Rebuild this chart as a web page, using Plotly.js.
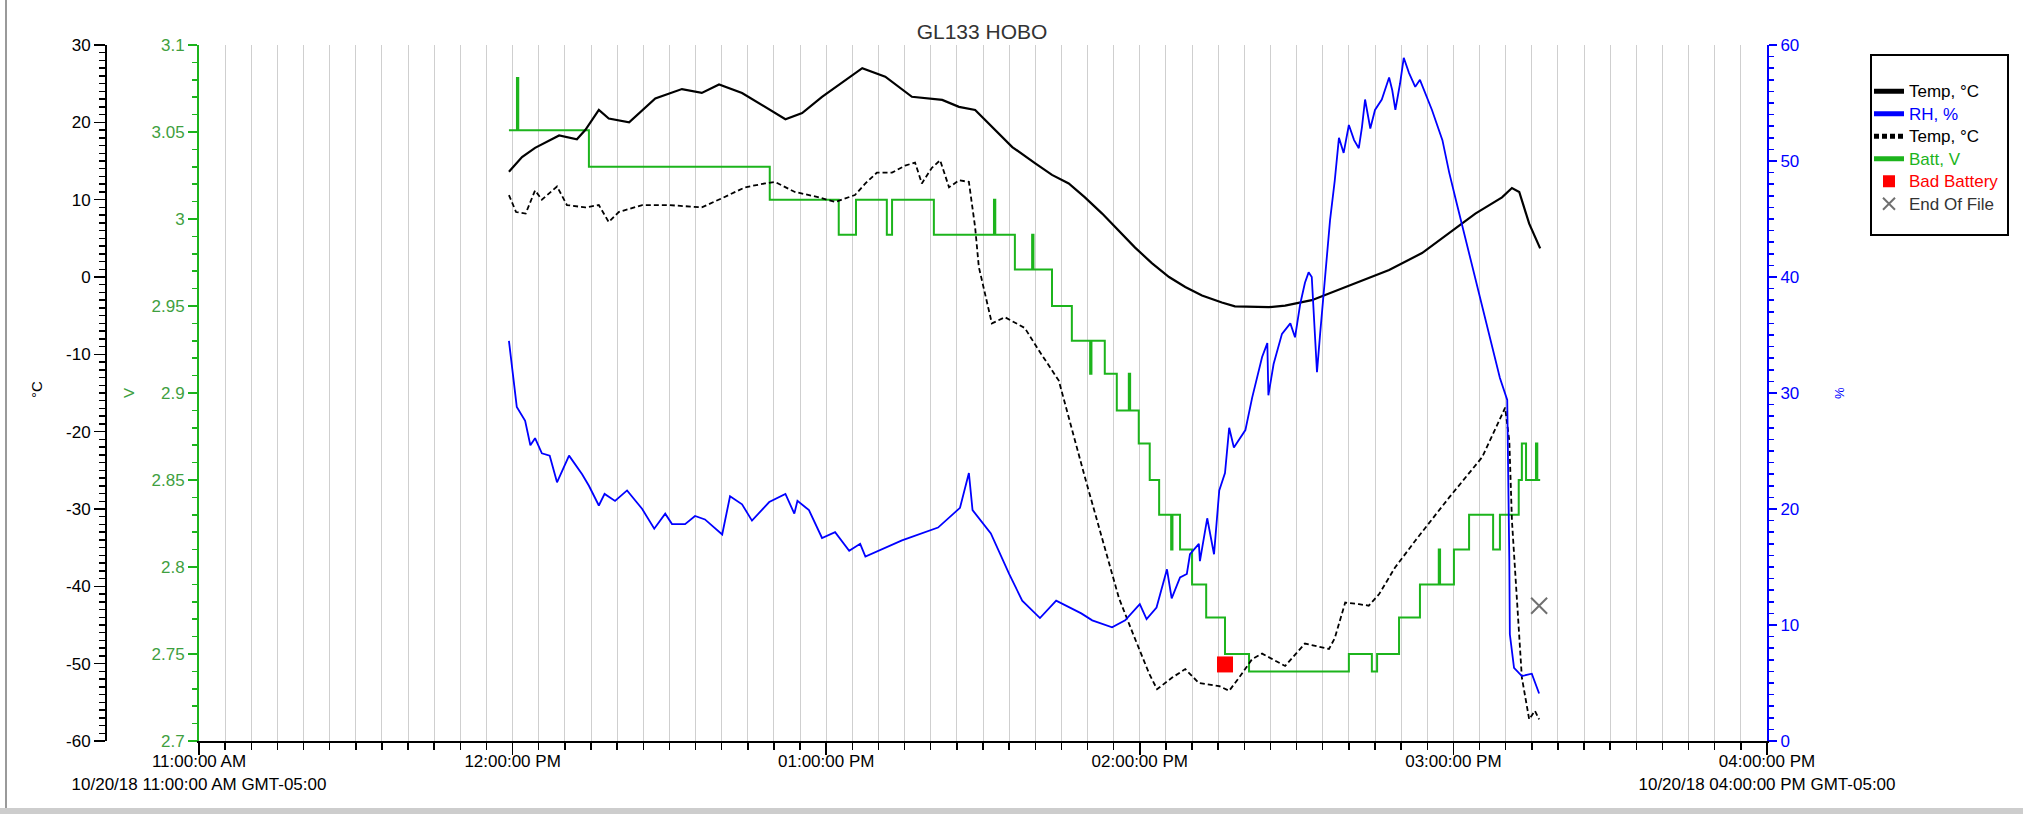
<!DOCTYPE html>
<html>
<head>
<meta charset="utf-8">
<script src="https://cdn.plot.ly/plotly-3.0.1.min.js"></script>
<style>
html, body { margin: 0; padding: 0; background: #ffffff; }
#chart { width: 2023px; height: 814px; }
</style>
</head>
<body>
<div id="chart"></div>
<script>
// ---------------- DATA ----------------
const DAY = '2018-10-20 ';

// Temp, °C (solid line) — temperature axis
const tempATime = ['11:59:18','12:01:48','12:04:18','12:08:54','12:12:18','12:13:54','12:16:30','12:18:24','12:22:18','12:27:18','12:32:24','12:36:12','12:39:30','12:43:54','12:52:12','12:55:24','12:59:12','13:06:54','13:11:18','13:16:24','13:22:12','13:25:24','13:28:30','13:30:24','13:33:36','13:35:36','13:40:00','13:43:12','13:46:24','13:49:30','13:52:48','13:56:00','13:59:06','14:02:18','14:05:36','14:08:42','14:11:54','14:15:42','14:18:12','14:24:42','14:27:48','14:32:54','14:38:42','14:43:48','14:47:42','14:54:00','14:59:12','15:04:12','15:09:18','15:11:12','15:12:36','15:14:30','15:16:36'];
const tempAVal  = [13.6,15.5,16.7,18.3,17.8,19.0,21.6,20.5,20.0,23.1,24.3,23.8,24.9,23.8,20.4,21.2,23.3,27.0,25.9,23.3,22.9,22.0,21.6,20.3,18.1,16.8,14.7,13.2,12.1,10.3,8.2,6.0,3.8,1.8,0.0,-1.3,-2.4,-3.3,-3.8,-3.9,-3.7,-3.0,-1.5,-0.2,0.9,3.1,5.7,8.2,10.3,11.5,11.0,6.9,3.7];

// RH, % — RH axis
const rhTime = ['11:59:18','12:00:18','12:00:48','12:02:24','12:03:24','12:04:18','12:05:36','12:07:06','12:08:30','12:10:48','12:13:18','12:14:36','12:16:30','12:17:36','12:19:36','12:21:54','12:24:48','12:27:06','12:29:12','12:30:30','12:33:00','12:34:54','12:36:48','12:40:06','12:41:36','12:43:54','12:45:48','12:49:06','12:52:12','12:53:54','12:54:30','12:56:42','12:59:12','13:01:42','13:04:24','13:06:30','13:07:30','13:14:30','13:21:24','13:25:36','13:27:18','13:28:00','13:31:30','13:35:00','13:37:30','13:40:54','13:44:00','13:48:48','13:50:54','13:54:42','13:57:12','14:00:00','14:01:18','14:03:12','14:05:12','14:06:06','14:07:42','14:09:00','14:09:36','14:11:18','14:11:30','14:12:54','14:14:12','14:15:12','14:16:18','14:17:06','14:18:00','14:20:12','14:21:30','14:23:24','14:24:24','14:24:36','14:25:36','14:27:12','14:28:48','14:29:42','14:30:42','14:31:36','14:32:18','14:32:54','14:33:30','14:33:54','14:34:30','14:35:30','14:36:24','14:37:18','14:37:42','14:38:06','14:39:00','14:40:00','14:41:00','14:41:54','14:42:30','14:43:06','14:44:06','14:45:00','14:46:18','14:47:42','14:48:18','14:48:54','14:49:48','14:50:30','14:51:30','14:52:42','14:53:36','14:54:24','14:55:54','14:57:54','14:59:12','15:00:30','15:03:00','15:06:00','15:08:54','15:10:18','15:10:30','15:10:42','15:10:48','15:11:36','15:13:06','15:15:00','15:16:24'];
const rhVal  = [34.5,30.8,28.8,27.6,25.5,26.1,24.8,24.6,22.3,24.6,23.0,22.0,20.3,21.3,20.7,21.6,20.0,18.3,19.6,18.7,18.7,19.4,19.1,17.8,21.1,20.4,19.0,20.6,21.3,19.6,20.7,19.9,17.5,18.0,16.4,17.0,15.9,17.3,18.4,20.1,23.1,19.9,17.9,14.4,12.1,10.6,12.1,11.0,10.4,9.8,10.4,11.8,10.5,11.5,14.8,12.3,14.1,14.4,16.1,17.0,15.5,19.2,16.1,21.6,23.1,27.0,25.3,26.8,29.6,33.1,34.3,29.8,32.5,35.1,36.0,34.8,37.7,39.5,40.4,40.0,35.4,31.8,35.1,40.3,44.9,48.3,50.3,52.0,50.7,53.1,51.8,51.1,52.9,55.3,52.8,54.4,55.3,57.2,56.1,54.4,56.7,58.9,57.6,56.4,57.0,56.1,54.4,51.8,49.0,46.6,42.0,36.5,31.3,29.4,24.2,15.5,9.2,6.3,5.6,5.8,4.1];

// Temp, °C (dashed line) — temperature axis
const tempBTime = ['11:59:18','12:00:40','12:02:30','12:04:18','12:05:36','12:08:30','12:10:24','12:13:54','12:16:30','12:18:24','12:20:18','12:24:48','12:29:54','12:36:12','12:40:06','12:44:30','12:48:18','12:50:12','12:54:00','12:58:36','13:01:42','13:05:30','13:07:30','13:09:42','13:12:36','13:15:06','13:17:00','13:18:18','13:20:12','13:21:48','13:23:30','13:25:24','13:27:18','13:28:30','13:29:12','13:31:42','13:34:12','13:38:00','13:40:42','13:44:30','13:49:30','13:56:00','13:58:30','14:01:48','14:03:18','14:06:12','14:08:42','14:11:18','14:15:12','14:17:06','14:19:00','14:21:30','14:23:24','14:27:48','14:31:36','14:36:12','14:37:18','14:39:18','14:41:54','14:43:48','14:45:48','14:48:48','14:51:42','14:52:42','14:59:12','15:05:30','15:09:54','15:10:42','15:11:12','15:11:48','15:12:36','15:13:06','15:14:30','15:15:36','15:16:24'];
const tempBVal  = [10.6,8.4,8.2,11.2,10.0,11.7,9.3,9.0,9.3,7.1,8.4,9.3,9.3,9.0,10.2,11.6,12.1,12.3,11.0,10.3,9.7,10.6,12.1,13.5,13.5,14.4,14.8,12.1,14.1,15.1,11.6,12.5,12.3,6.4,1.3,-6.0,-5.2,-6.6,-9.5,-13.4,-25.9,-41.5,-45.8,-51.3,-53.3,-51.8,-50.7,-52.5,-52.9,-53.5,-51.8,-49.4,-48.7,-50.3,-47.4,-48.1,-46.7,-42.1,-42.3,-42.5,-41.0,-37.6,-35.0,-34.1,-28.5,-23.3,-16.9,-21.2,-31.5,-38.4,-46.1,-51.8,-57.2,-56.1,-57.2];

// Batt, V (step line) — voltage axis
const battTime = ['11:59:18','12:00:50','12:01:05','12:14:36','12:49:12','13:02:24','13:05:42','13:11:36','13:12:36','13:20:36','13:32:06','13:32:21','13:36:06','13:39:24','13:39:39','13:43:12','13:47:00','13:50:30','13:50:45','13:53:18','13:55:36','13:57:54','13:58:09','13:59:48','14:01:54','14:03:42','14:06:00','14:06:15','14:07:42','14:10:00','14:12:42','14:16:18','14:20:54','14:40:00','14:44:24','14:45:24','14:49:36','14:53:36','14:57:12','14:57:27','15:00:06','15:03:00','15:07:36','15:08:54','15:12:30','15:13:06','15:13:54','15:15:48','15:16:03','15:16:36'];
const battVal  = [3.051,3.081,3.051,3.030,3.011,2.991,3.011,2.991,3.011,2.991,3.011,2.991,2.971,2.991,2.971,2.950,2.930,2.911,2.930,2.911,2.890,2.911,2.890,2.871,2.850,2.830,2.810,2.830,2.810,2.790,2.771,2.750,2.740,2.750,2.740,2.750,2.771,2.790,2.810,2.790,2.810,2.830,2.810,2.830,2.850,2.871,2.850,2.871,2.850,2.850];

// Events
const badBatteryTime = ['14:16:18'];
const badBatteryVal  = [2.744];
const endOfFileTime  = ['15:16:24'];
const endOfFileVal   = [-42.5];

// Axis ticks
const hourTicks  = ['11:00:00','12:00:00','13:00:00','14:00:00','15:00:00','16:00:00'];
const hourLabels = ['11:00:00 AM<br>10/20/18 11:00:00 AM GMT-05:00','12:00:00 PM','01:00:00 PM','02:00:00 PM','03:00:00 PM','04:00:00 PM<br>10/20/18 04:00:00 PM GMT-05:00'];
const tempTicks  = [30,20,10,0,-10,-20,-30,-40,-50,-60];
const tempLabels = ['30','20','10','0','-10','-20','-30','-40','-50','-60'];
const voltTicks  = [3.1,3.05,3,2.95,2.9,2.85,2.8,2.75,2.7];
const voltLabels = ['3.1','3.05','3','2.95','2.9','2.85','2.8','2.75','2.7'];
const rhTicks    = [0,10,20,30,40,50,60];
const rhLabels   = ['0','10','20','30','40','50','60'];

// ---------------- LAYOUT HELPERS ----------------
const PL = 60, PR = 1767, PT = 45, PB = 741;           // paper box in px
const px = v => (v - PL) / (PR - PL);                   // px -> paper x
const py = v => (PB - v) / (PB - PT);                   // px -> paper y
const withDay = arr => arr.map(t => DAY + t);
const legendName = (txt, color) => '<span style="font-size:17px;color:' + color + '">' + txt + '</span>';

const GREEN = '#1cb41c', GREEN_TXT = '#3f9f3f', BLUE = '#0000ff';
const FONT = 'Liberation Sans, Arial, sans-serif';

const traces = [
  { name: legendName('Temp, °C', '#000000'), x: withDay(tempATime), y: tempAVal, yaxis: 'y2', type: 'scatter', mode: 'lines',
    line: { color: '#000000', width: 2.2 } },
  { name: legendName('RH, %', BLUE), x: withDay(rhTime), y: rhVal, yaxis: 'y3', type: 'scatter', mode: 'lines',
    line: { color: BLUE, width: 1.8 } },
  { name: legendName('Temp, °C', '#000000'), x: withDay(tempBTime), y: tempBVal, yaxis: 'y2', type: 'scatter', mode: 'lines',
    line: { color: '#000000', width: 1.8, dash: '5px,3px' } },
  { name: legendName('Batt, V', GREEN), x: withDay(battTime), y: battVal, yaxis: 'y', type: 'scatter', mode: 'lines',
    line: { color: GREEN, width: 2, shape: 'hv' } },
  { name: legendName('Bad Battery', '#ff0000'), x: withDay(badBatteryTime), y: badBatteryVal, yaxis: 'y', type: 'scatter', mode: 'markers',
    marker: { symbol: 'square', size: 16, color: '#ff0000' } },
  { name: legendName('End Of File', '#333333'), x: withDay(endOfFileTime), y: endOfFileVal, yaxis: 'y2', type: 'scatter', mode: 'markers',
    marker: { symbol: 'x-thin-open', size: 16, color: '#707070', line: { width: 2, color: '#707070' } } }
];

const layout = {
  width: 2023, height: 814,
  margin: { l: PL, r: 2023 - PR, t: PT, b: 814 - PB, pad: 0 },
  paper_bgcolor: '#ffffff', plot_bgcolor: '#ffffff',
  font: { family: FONT, size: 17, color: '#000000' },
  hovermode: false,
  title: { text: 'GL133 HOBO', font: { family: FONT, size: 21, color: '#333333' },
           xref: 'container', x: 982 / 2023, xanchor: 'center',
           yref: 'container', y: 1 - 32 / 814, yanchor: 'middle' },
  showlegend: true,
  legend: { x: px(1869), xanchor: 'left', y: py(75), yanchor: 'top',
            bgcolor: 'rgba(0,0,0,0)', borderwidth: 0, itemsizing: 'constant',
            font: { family: FONT, size: 15, color: '#000000' }, tracegroupgap: 0 },
  xaxis: {
    type: 'date', domain: [px(199), 1],
    range: [DAY + '11:00:00', DAY + '16:00:00'],
    tickmode: 'array', tickvals: withDay(hourTicks), ticktext: hourLabels,
    ticks: 'outside', ticklen: 12, tickwidth: 1.5, tickcolor: '#000000',
    ticklabelstandoff: -8,
    showline: true, linecolor: '#000000', linewidth: 2,
    showgrid: true, gridcolor: '#cfcfcf', gridwidth: 1, zeroline: false,
    tickfont: { family: FONT, size: 17, color: '#000000' },
    minor: { tickmode: 'linear', tick0: DAY + '11:00:00', dtick: 300000,
             ticks: 'outside', ticklen: 7, tickwidth: 1.5, tickcolor: '#000000',
             showgrid: true, gridcolor: '#cfcfcf', gridwidth: 1 },
    fixedrange: true
  },
  yaxis: {   // Batt, V
    anchor: 'x', side: 'left', range: [2.7, 3.1],
    tickmode: 'array', tickvals: voltTicks, ticktext: voltLabels,
    ticks: 'outside', ticklen: 9, tickwidth: 1.5, tickcolor: GREEN,
    showline: true, linecolor: GREEN, linewidth: 2,
    showgrid: false, zeroline: false,
    tickfont: { family: FONT, size: 17, color: GREEN_TXT },
    minor: { tickmode: 'linear', tick0: 2.7, dtick: 0.01, ticks: 'outside', ticklen: 5, tickwidth: 1.5, tickcolor: GREEN, showgrid: false },
    fixedrange: true
  },
  yaxis2: {  // Temp, °C
    overlaying: 'y', anchor: 'free', position: px(106), side: 'left', range: [-60, 30],
    tickmode: 'array', tickvals: tempTicks, ticktext: tempLabels,
    ticks: 'outside', ticklen: 11, tickwidth: 1.5, tickcolor: '#000000',
    showline: true, linecolor: '#000000', linewidth: 2,
    showgrid: false, zeroline: false,
    tickfont: { family: FONT, size: 17, color: '#000000' },
    minor: { tickmode: 'linear', tick0: -60, dtick: 1, ticks: 'outside', ticklen: 6, tickwidth: 1.5, tickcolor: '#000000', showgrid: false },
    fixedrange: true
  },
  yaxis3: {  // RH, %
    overlaying: 'y', anchor: 'x', side: 'right', range: [0, 60],
    tickmode: 'array', tickvals: rhTicks, ticktext: rhLabels,
    ticks: 'outside', ticklen: 8, tickwidth: 1.5, tickcolor: BLUE,
    showline: true, linecolor: BLUE, linewidth: 2,
    showgrid: false, zeroline: false,
    tickfont: { family: FONT, size: 17, color: BLUE },
    minor: { tickmode: 'linear', tick0: 0, dtick: 1, ticks: 'outside', ticklen: 5, tickwidth: 1.5, tickcolor: BLUE, showgrid: false },
    fixedrange: true
  },
  shapes: [
    // legend frame
    { type: 'rect', xref: 'paper', yref: 'paper', x0: px(1871), x1: px(2008), y0: py(55), y1: py(235),
      line: { color: '#000000', width: 2 }, fillcolor: 'rgba(0,0,0,0)' },
    // window frame: left edge and bottom bar
    { type: 'line', xref: 'paper', yref: 'paper', x0: px(6), x1: px(6), y0: py(0), y1: py(808),
      line: { color: '#9a9a9a', width: 2 } },
    { type: 'rect', xref: 'paper', yref: 'paper', x0: px(0), x1: px(2023), y0: py(808), y1: py(814),
      line: { width: 0 }, fillcolor: '#cdcdcd' }
  ],
  annotations: [
    { text: '°C', xref: 'paper', yref: 'paper', x: px(36), y: py(390), xanchor: 'center', yanchor: 'middle',
      textangle: -90, showarrow: false, font: { family: FONT, size: 15, color: '#000000' } },
    { text: 'V', xref: 'paper', yref: 'paper', x: px(128), y: py(393), xanchor: 'center', yanchor: 'middle',
      textangle: -90, showarrow: false, font: { family: FONT, size: 15, color: GREEN_TXT } },
    { text: '%', xref: 'paper', yref: 'paper', x: px(1839), y: py(393), xanchor: 'center', yanchor: 'middle',
      textangle: -90, showarrow: false, font: { family: FONT, size: 13, color: BLUE } }
  ]
};

Plotly.newPlot('chart', traces, layout, { displayModeBar: false, staticPlot: true });
</script>
</body>
</html>
